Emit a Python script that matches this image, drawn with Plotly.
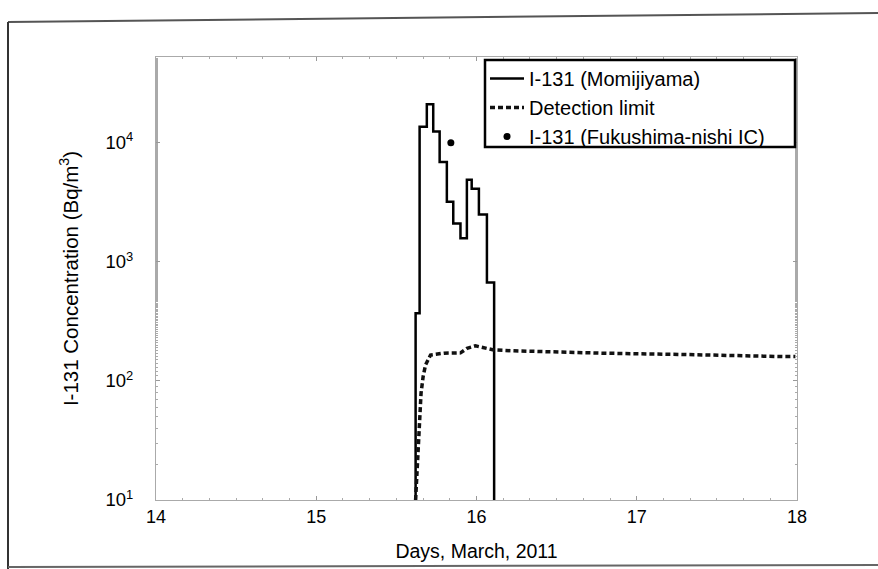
import plotly.graph_objects as go

# Momijiyama step data (hourly bins): edges (days) and levels (Bq/m3)
momiji_edges = [15.62, 15.645, 15.69, 15.73, 15.77, 15.815, 15.855, 15.90, 15.94, 15.97, 16.015, 16.065, 16.11]
momiji_levels = [370, 13600, 21000, 12400, 6900, 3200, 2100, 1580, 4900, 4100, 2500, 670]
baseline = 10

# Detection limit
dl_x = [15.62, 15.63, 15.64, 15.646, 15.654, 15.667, 15.682, 15.713, 15.796, 15.90, 15.941,
        15.993, 16.055, 16.107, 16.232, 16.336, 16.781, 17.259, 17.612, 17.923, 17.99]
dl_y = [10, 18, 32, 54, 79, 109, 136, 165, 171, 172, 188, 197, 188, 182, 179, 177, 171,
        167, 162, 160, 160]

# Fukushima-nishi IC point
fk_x = [15.84]
fk_y = [10000]

x_ticks = [14, 15, 16, 17, 18]
y_ticks = [10, 100, 1000, 10000]
y_ticktext = ["10<sup>1</sup>", "10<sup>2</sup>", "10<sup>3</sup>", "10<sup>4</sup>"]

step_x = [momiji_edges[0]] + momiji_edges
step_y = [baseline] + momiji_levels + [baseline]

FONT = "Liberation Sans, Arial, sans-serif"

fig = go.Figure()
fig.add_trace(go.Scatter(x=step_x, y=step_y, mode="lines", line_shape="hv",
                         line=dict(color="black", width=2.5),
                         name="I-131 (Momijiyama)"))
fig.add_trace(go.Scatter(x=dl_x, y=dl_y, mode="lines",
                         line=dict(color="#111", width=3.5, dash="5px,3px"),
                         name="Detection limit"))
fig.add_trace(go.Scatter(x=fk_x, y=fk_y, mode="markers",
                         marker=dict(color="black", size=7),
                         name="I-131 (Fukushima-nishi IC)"))

L, R, T, B = 156, 81, 57, 69
W, H = 878, 569
pw, ph = W - L - R, H - T - B

def px(xp):
    return (xp - L) / pw

def py(yp):
    return (H - B - yp) / ph

shapes = [
    dict(type="line", xref="paper", yref="paper", x0=px(8), y0=py(22), x1=px(878), y1=py(13),
         line=dict(color="#555", width=2)),
    dict(type="line", xref="paper", yref="paper", x0=px(8), y0=py(22), x1=px(8), y1=py(569),
         line=dict(color="#333", width=2)),
    dict(type="line", xref="paper", yref="paper", x0=px(8), y0=py(567), x1=px(878), y1=py(565),
         line=dict(color="#666", width=2)),
    # legend box
    dict(type="rect", xref="paper", yref="paper", x0=px(485), y0=py(60), x1=px(795), y1=py(147),
         fillcolor="white", line=dict(color="black", width=2.5), layer="above"),
]

fig.update_layout(
    width=W, height=H,
    margin=dict(l=L, r=R, t=T, b=B, autoexpand=False),
    paper_bgcolor="white", plot_bgcolor="white",
    font=dict(family=FONT, size=18, color="black"),
    showlegend=True,
    legend=dict(x=px(485), y=py(59), xanchor="left", yanchor="top",
                bgcolor="rgba(0,0,0,0)", borderwidth=0,
                font=dict(size=20, family=FONT), tracegroupgap=0,
                itemwidth=34),
    shapes=shapes,
    xaxis=dict(range=[14, 18], tickvals=x_ticks, ticks="inside", ticklen=4,
               tickcolor="#999", showline=True, linecolor="#aaa", linewidth=1, mirror="ticks",
               showgrid=False, zeroline=False,
               minor=dict(ticks="inside", ticklen=2, dtick=1/6, tickcolor="#aaa"),
               tickfont=dict(size=18),
               title=dict(text="Days, March, 2011", font=dict(size=19.5), standoff=18)),
    yaxis=dict(type="log", range=[1, 4.72], tickvals=y_ticks, ticktext=y_ticktext,
               ticks="inside", ticklen=4, tickcolor="#999",
               showline=True, linecolor="#aaa", linewidth=1, mirror="ticks",
               showgrid=False, zeroline=False,
               minor=dict(ticks="inside", ticklen=2, tickcolor="#aaa"),
               tickfont=dict(size=18.5), ticklabelstandoff=18,
               title=dict(text="I-131 Concentration (Bq/m<sup>3</sup>)", font=dict(size=20.5), standoff=21)),
)

fig.write_html("out.html")
